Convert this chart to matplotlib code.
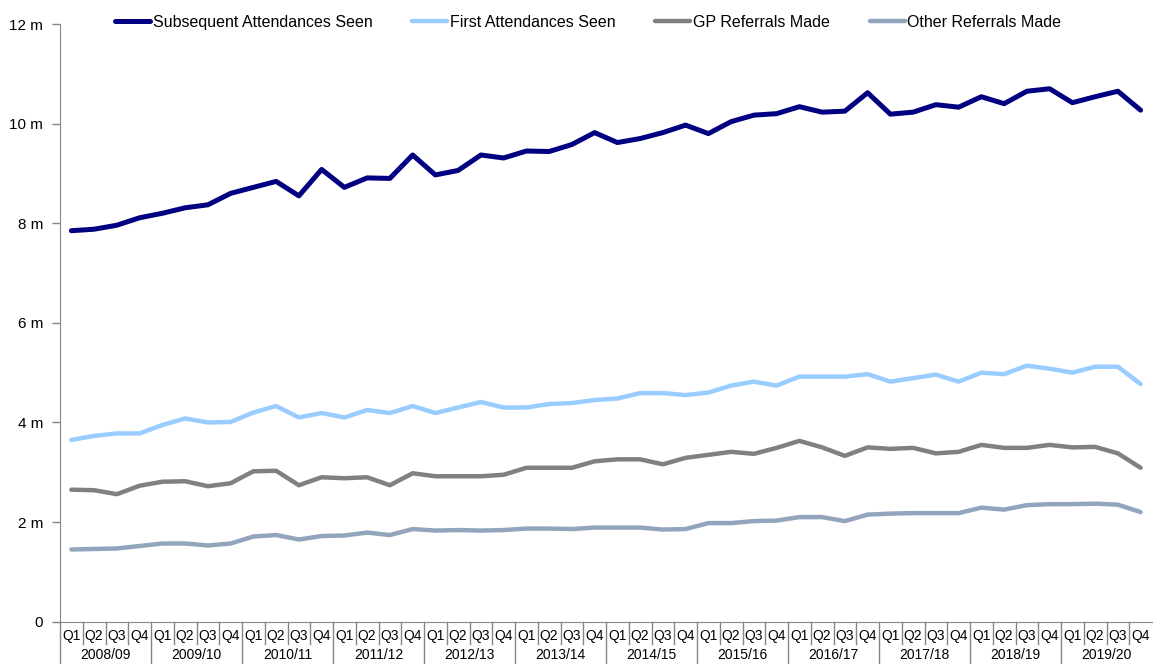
import matplotlib
matplotlib.use('Agg')
import matplotlib.pyplot as plt
import matplotlib.transforms as mtransforms

plt.rcParams['font.family'] = ['Liberation Sans', 'DejaVu Sans']

# данные (миллионы)
years = ['2008/09', '2009/10', '2010/11', '2011/12', '2012/13', '2013/14',
         '2014/15', '2015/16', '2016/17', '2017/18', '2018/19', '2019/20']
quarters = ['Q1', 'Q2', 'Q3', 'Q4']

subsequent = [7.85, 7.88, 7.96, 8.11, 8.20, 8.31, 8.37, 8.60, 8.72, 8.84, 8.55, 9.08,
              8.72, 8.91, 8.90, 9.37, 8.97, 9.06, 9.37, 9.31, 9.45, 9.44, 9.58, 9.82,
              9.62, 9.70, 9.82, 9.97, 9.80, 10.04, 10.17, 10.20, 10.34, 10.23, 10.25, 10.62,
              10.19, 10.23, 10.38, 10.33, 10.54, 10.40, 10.65, 10.70, 10.42, 10.54, 10.65, 10.27]
first = [3.65, 3.73, 3.78, 3.78, 3.95, 4.08, 4.00, 4.01, 4.20, 4.33, 4.10, 4.19,
         4.10, 4.25, 4.19, 4.33, 4.19, 4.30, 4.41, 4.30, 4.30, 4.37, 4.39, 4.45,
         4.48, 4.59, 4.59, 4.55, 4.60, 4.74, 4.82, 4.74, 4.92, 4.92, 4.92, 4.97,
         4.82, 4.89, 4.96, 4.82, 5.00, 4.97, 5.14, 5.08, 5.00, 5.12, 5.12, 4.77]
gp = [2.65, 2.64, 2.56, 2.73, 2.81, 2.82, 2.72, 2.78, 3.02, 3.03, 2.74, 2.90,
      2.88, 2.90, 2.74, 2.98, 2.92, 2.92, 2.92, 2.95, 3.09, 3.09, 3.09, 3.22,
      3.26, 3.26, 3.16, 3.29, 3.35, 3.41, 3.37, 3.49, 3.63, 3.50, 3.33, 3.50,
      3.47, 3.49, 3.38, 3.41, 3.55, 3.49, 3.49, 3.55, 3.50, 3.51, 3.38, 3.09]
other = [1.45, 1.46, 1.47, 1.52, 1.57, 1.57, 1.53, 1.57, 1.71, 1.74, 1.65, 1.72,
         1.73, 1.79, 1.74, 1.86, 1.83, 1.84, 1.83, 1.84, 1.87, 1.87, 1.86, 1.89,
         1.89, 1.89, 1.85, 1.86, 1.98, 1.98, 2.02, 2.03, 2.10, 2.10, 2.02, 2.15,
         2.17, 2.18, 2.18, 2.18, 2.29, 2.25, 2.34, 2.36, 2.36, 2.37, 2.35, 2.20]

W, H = 1153, 664
fig = plt.figure(figsize=(W / 100, H / 100), dpi=100)
ax = fig.add_axes([60 / W, (H - 621.7) / H, 1092 / W, (621.7 - 24) / H])

x = list(range(len(subsequent)))
ax.plot(x, subsequent, color='#000080', linewidth=3.6, label='Subsequent Attendances Seen', solid_capstyle='round')
ax.plot(x, first, color='#99CCFF', linewidth=3.2, label='First Attendances Seen', solid_capstyle='round')
ax.plot(x, gp, color='#808080', linewidth=3.2, label='GP Referrals Made', solid_capstyle='round')
ax.plot(x, other, color='#93A5BD', linewidth=3.2, label='Other Referrals Made', solid_capstyle='round')

ax.set_xlim(-0.5, len(x) - 0.5)
ax.set_ylim(0, 12)
ax.set_yticks(range(0, 13, 2))
ax.set_yticklabels(['0'] + ['%d m' % v for v in range(2, 13, 2)], fontsize=11)
ax.tick_params(axis='y', direction='out', length=6, width=1, color='#868686', pad=6)
ax.set_xticks([])

for s in ['top', 'right']:
    ax.spines[s].set_visible(False)
ax.spines['left'].set_color('#868686')
ax.spines['bottom'].set_color('#868686')

# подписи оси x: кварталы и годы
trans = mtransforms.blended_transform_factory(ax.transData, fig.transFigure)
y_axis = (H - 621.7) / H
y_q = (H - 636) / H
y_qline = (H - 644) / H
y_year = (H - 655) / H
for k, yr in enumerate(years):
    for j, q in enumerate(quarters):
        i = 4 * k + j
        ax.text(i, y_q, q, transform=trans, ha='center', va='center', fontsize=10)
        if j > 0:
            ax.plot([i - 0.5, i - 0.5], [y_axis, y_qline], transform=trans,
                    color='#868686', linewidth=1, clip_on=False)
    ax.plot([4 * k - 0.5, 4 * k - 0.5], [y_axis, 0], transform=trans,
            color='#868686', linewidth=1, clip_on=False)
    ax.text(4 * k + 1.5, y_year, yr, transform=trans, ha='center', va='center', fontsize=10)

fig.legend(loc='center left', bbox_to_anchor=(115 / W, 1 - 22.3 / H), ncol=4,
           frameon=False, fontsize=11.5, handlelength=2.2, handletextpad=0.15,
           columnspacing=2.5, borderpad=0, borderaxespad=0)

fig.savefig('out.png', dpi=100)
